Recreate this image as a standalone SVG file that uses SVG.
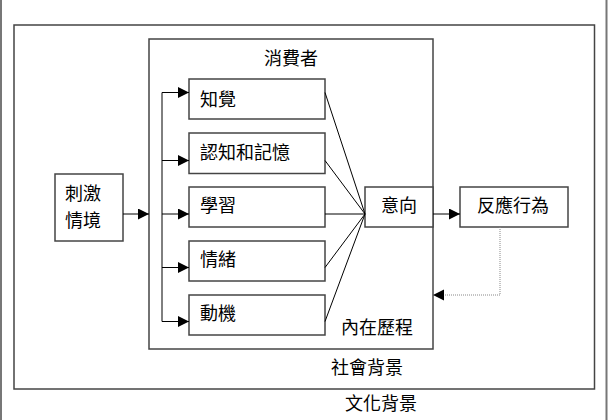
<svg xmlns="http://www.w3.org/2000/svg" width="610" height="420" viewBox="0 0 610 420">
  <style>
    .frame { fill: none; stroke: #444; stroke-width: 1.5; }
    .box { fill: #fff; stroke: #444; stroke-width: 1.5; }
    .edge { fill: none; stroke: #000; stroke-width: 1; }
    .dot { fill: none; stroke: #888; stroke-width: 1; stroke-dasharray: 1 1; }
    .outer { stroke: #777; stroke-width: 2; }
    text { font-family: "Noto Sans CJK TC", "Noto Sans CJK SC", sans-serif; font-size: 18px; fill: #000; }
  </style>
  <defs>
    <marker id="arrow" markerUnits="userSpaceOnUse" markerWidth="12" markerHeight="12" refX="11" refY="5.5" orient="auto">
      <path d="M0,0 L11,5.5 L0,11 z" fill="#000"/>
    </marker>
  </defs>

  <g id="frame-outer">
    <line class="outer" x1="1" y1="0" x2="1" y2="420"/>
    <line class="outer" x1="606.5" y1="0" x2="606.5" y2="420"/>
    <text x="345" y="409.5">文化背景</text>
  </g>

  <g id="social">
    <rect class="frame" x="14" y="25" width="580.5" height="364"/>
    <text x="331" y="373.5">社會背景</text>
  </g>

  <g id="consumer">
    <rect class="frame" x="149" y="39" width="284" height="310"/>
    <text x="291" y="64.5" text-anchor="middle">消費者</text>
    <text x="341" y="334">內在歷程</text>
  </g>

  <g id="stimulus">
    <rect class="box" x="55" y="174" width="68" height="67"/>
    <text x="65" y="199.5">刺激</text>
    <text x="65" y="226.5">情境</text>
  </g>

  <g id="perception">
    <rect class="box" x="189" y="79" width="136" height="40"/>
    <text x="200" y="105.5">知覺</text>
  </g>
  <g id="cognition">
    <rect class="box" x="189" y="133" width="136" height="40.5"/>
    <text x="200" y="158.5">認知和記憶</text>
  </g>
  <g id="learning">
    <rect class="box" x="189" y="187" width="136" height="40"/>
    <text x="200" y="212">學習</text>
  </g>
  <g id="emotion">
    <rect class="box" x="189" y="241" width="136" height="40"/>
    <text x="200" y="265.5">情緒</text>
  </g>
  <g id="motivation">
    <rect class="box" x="189" y="295" width="136" height="40"/>
    <text x="200" y="320">動機</text>
  </g>

  <g id="intention">
    <rect class="box" x="365" y="187" width="68" height="40"/>
    <text x="399" y="212" text-anchor="middle">意向</text>
  </g>

  <g id="response">
    <rect class="box" x="460" y="187" width="108" height="40"/>
    <text x="513" y="212" text-anchor="middle">反應行為</text>
  </g>

  <g id="connectors">
    <line class="edge" x1="123" y1="214" x2="149" y2="214" marker-end="url(#arrow)"/>
    <line class="edge" x1="162" y1="92.5" x2="162" y2="321.5"/>
    <line class="edge" x1="162" y1="92.5" x2="189" y2="92.5" marker-end="url(#arrow)"/>
    <line class="edge" x1="162" y1="160.5" x2="189" y2="160.5" marker-end="url(#arrow)"/>
    <line class="edge" x1="162" y1="214" x2="189" y2="214" marker-end="url(#arrow)"/>
    <line class="edge" x1="162" y1="267.5" x2="189" y2="267.5" marker-end="url(#arrow)"/>
    <line class="edge" x1="162" y1="321.5" x2="189" y2="321.5" marker-end="url(#arrow)"/>
    <line class="edge" x1="325" y1="92.5" x2="365" y2="214"/>
    <line class="edge" x1="325" y1="160.5" x2="365" y2="214"/>
    <line class="edge" x1="325" y1="214" x2="365" y2="214"/>
    <line class="edge" x1="325" y1="267.5" x2="365" y2="214"/>
    <line class="edge" x1="325" y1="321.5" x2="365" y2="214"/>
    <line class="edge" x1="433" y1="214" x2="460" y2="214" marker-end="url(#arrow)"/>
    <polyline class="dot" points="500,227 500,295 444,295"/>
    <path d="M444,289.5 L433,295 L444,300.5 z" fill="#000"/>
  </g>
</svg>
